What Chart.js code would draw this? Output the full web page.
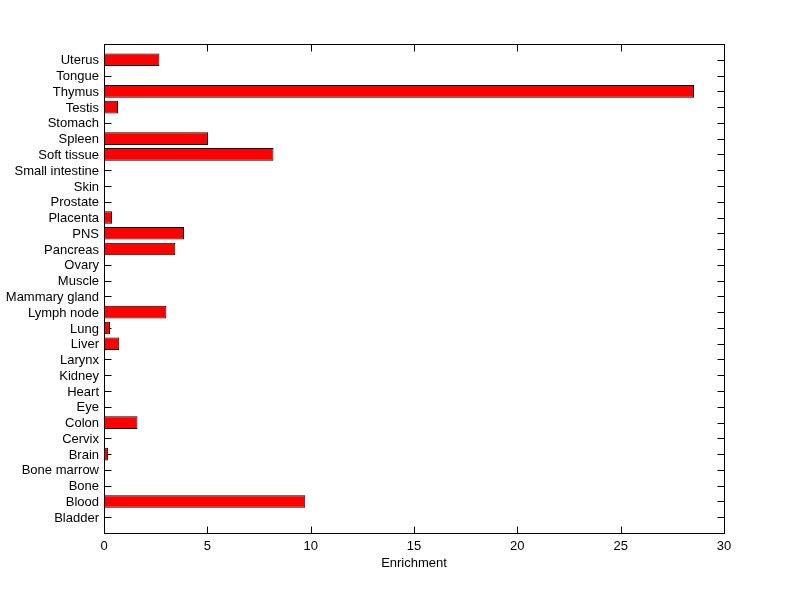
<!DOCTYPE html>
<html>
<head>
<meta charset="utf-8">
<script src="https://cdn.jsdelivr.net/npm/chart.js@4.4.1/dist/chart.umd.min.js"></script>
<style>
  html, body { margin: 0; padding: 0; background: #fff; }
  #wrap { width: 800px; height: 599px; }
</style>
</head>
<body>
<div id="wrap"><canvas id="chart-canvas"></canvas></div>
<script>
// ----- data (top row first) -----
var tissues = [
  "Uterus", "Tongue", "Thymus", "Testis", "Stomach", "Spleen", "Soft tissue",
  "Small intestine", "Skin", "Prostate", "Placenta", "PNS", "Pancreas", "Ovary",
  "Muscle", "Mammary gland", "Lymph node", "Lung", "Liver", "Larynx", "Kidney",
  "Heart", "Eye", "Colon", "Cervix", "Brain", "Bone marrow", "Bone", "Blood", "Bladder"
];
var enrichment = [
  2.68, 0, 28.55, 0.68, 0, 5.03, 8.2,
  0, 0, 0, 0.39, 3.87, 3.45, 0,
  0, 0, 3.02, 0.29, 0.74, 0, 0,
  0, 0, 1.62, 0, 0.2, 0, 0, 9.74, 0
];
var xTicks = [0, 5, 10, 15, 20, 25, 30];
var xTitle = "Enrichment";

// MATLAB leaves a full empty slot above and below the bars
var labels = [""].concat(tissues, [""]);
var values = [null].concat(enrichment, [null]);

Chart.defaults.font.family = "'Liberation Sans', Arial, sans-serif";
Chart.defaults.font.size = 13;
Chart.defaults.color = "#000";

var TICK_LEN = 7;

function boxEdges(chart) {
  var a = chart.chartArea;
  return {
    L: Math.round(a.left) + 0.5, R: Math.round(a.right) + 0.5,
    T: Math.round(a.top) + 0.5, B: Math.round(a.bottom) + 0.5
  };
}

/**
 * Inward tick marks on all four sides (under the bars, like MATLAB),
 * then the black box round the axes on top.
 */
var boxTicks = {
  id: "boxTicks",
  beforeDatasetsDraw: function(chart) {
    var ctx = chart.ctx;
    var xs = chart.scales.x;
    var ys = chart.scales.y;
    var e = boxEdges(chart);
    ctx.save();
    ctx.strokeStyle = "#000";
    ctx.lineWidth = 1;
    ctx.beginPath();
    xTicks.forEach(function(v) {
      var px = Math.round(xs.getPixelForValue(v)) + 0.5;
      ctx.moveTo(px, e.B); ctx.lineTo(px, e.B - TICK_LEN);
      ctx.moveTo(px, e.T); ctx.lineTo(px, e.T + TICK_LEN);
    });
    for (var i = 1; i <= tissues.length; i++) {
      var py = Math.round(ys.getPixelForValue(i)) + 0.5;
      ctx.moveTo(e.L, py); ctx.lineTo(e.L + TICK_LEN, py);
      ctx.moveTo(e.R, py); ctx.lineTo(e.R - TICK_LEN, py);
    }
    ctx.stroke();
    ctx.restore();
  },
  afterDatasetsDraw: function(chart) {
    var ctx = chart.ctx;
    var e = boxEdges(chart);
    ctx.save();
    ctx.strokeStyle = "#000";
    ctx.lineWidth = 1;
    ctx.strokeRect(e.L, e.T, e.R - e.L, e.B - e.T);
    ctx.restore();
  }
};

var chartInstance = new Chart(document.getElementById("chart-canvas"), {
  type: "bar",
  data: {
    labels: labels,
    datasets: [{
      label: xTitle,
      data: values,
      backgroundColor: "#ff0000",
      borderColor: "#000",
      borderWidth: 1,
      borderSkipped: false,
      barPercentage: 0.8,
      categoryPercentage: 1.0
    }]
  },
  options: {
    indexAxis: "y",
    responsive: true,
    maintainAspectRatio: false,
    animation: false,
    layout: { padding: { left: 0, top: 44, right: 76, bottom: 24 } },
    plugins: {
      legend: { display: false },
      tooltip: { enabled: false }
    },
    scales: {
      x: {
        type: "linear",
        min: 0,
        max: 30,
        afterBuildTicks: function(scale) {
          scale.ticks = xTicks.map(function(v) { return { value: v }; });
        },
        afterFit: function(scale) { scale.height = 42; },
        grid: { display: false, drawTicks: false },
        border: { display: false },
        ticks: { padding: 6, maxRotation: 0 },
        title: { display: true, text: xTitle, padding: { top: 0, bottom: 4 } }
      },
      y: {
        type: "category",
        offset: false,
        afterFit: function(scale) { scale.width = 104; },
        grid: { display: false, drawTicks: false },
        border: { display: false },
        ticks: { padding: 5, autoSkip: false, labelOffset: 1 }
      }
    }
  },
  plugins: [boxTicks]
});
</script>
</body>
</html>
